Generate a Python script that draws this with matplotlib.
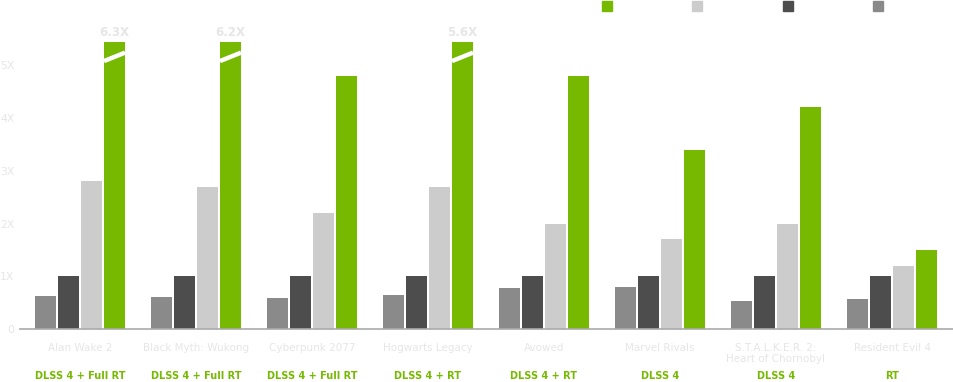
import matplotlib.pyplot as plt
import numpy as np
from matplotlib.patches import Rectangle

# datos
juegos = ["Alan Wake 2", "Black Myth: Wukong", "Cyberpunk 2077", "Hogwarts Legacy",
          "Avowed", "Marvel Rivals", "S.T.A.L.K.E.R. 2:\nHeart of Chornobyl", "Resident Evil 4"]
modos = ["DLSS 4 + Full RT", "DLSS 4 + Full RT", "DLSS 4 + Full RT", "DLSS 4 + RT",
         "DLSS 4 + RT", "DLSS 4", "DLSS 4", "RT"]
gris = [0.63, 0.60, 0.58, 0.65, 0.77, 0.80, 0.53, 0.57]
oscuro = [1.0, 1.0, 1.0, 1.0, 1.0, 1.0, 1.0, 1.0]
claro = [2.8, 2.7, 2.2, 2.7, 2.0, 1.7, 2.0, 1.2]
verde = [6.3, 6.2, 4.8, 5.6, 4.8, 3.4, 4.2, 1.5]
leyenda = ["RTX 5090", "RTX 4090", "RTX 3090 Ti", "RTX 2080 Ti"]

VERDE = "#76b900"
CLARO = "#cccccc"
OSCURO = "#4d4d4d"
GRIS = "#8a8a8a"
TEXTO = "#e6e6e6"
TOPE = 5.45  # altura maxima dibujada (barras cortadas)

fig = plt.figure(figsize=(9.54, 3.82), dpi=100)
ax = fig.add_axes([20 / 954, 53 / 382, 934 / 954, 327 / 382])

x = np.arange(len(juegos))
paso = 23 / 116
ancho = 21 / 116
series = [(gris, GRIS), (oscuro, OSCURO), (claro, CLARO), (verde, VERDE)]
for k, (vals, color) in enumerate(series):
    alturas = [min(v, TOPE) for v in vals]
    ax.bar(x + (k - 1.5) * paso, alturas, width=ancho, color=color, zorder=2)

# barras cortadas
xv = x + 1.5 * paso
for i, v in enumerate(verde):
    if v > TOPE:
        ax.plot([xv[i] - ancho / 2, xv[i] + ancho / 2], [5.08, 5.24],
                color="white", lw=3.2, solid_capstyle="butt", zorder=3)
        ax.text(xv[i], TOPE + 0.04, f"{v:.1f}X", ha="center", va="bottom",
                color=TEXTO, fontsize=8.5, fontweight="bold")

ax.set_xlim(-60 / 116, 874 / 116)
ax.set_ylim(0, 6.2)
ax.set_yticks([0, 1, 2, 3, 4, 5])
ax.set_yticklabels(["0", "1X", "2X", "3X", "4X", "5X"], color=TEXTO, fontsize=7.8)
ax.set_xticks(x)
ax.set_xticklabels(juegos, color=TEXTO, fontsize=7.5, va="top")
ax.tick_params(axis="both", length=0)
ax.tick_params(axis="x", pad=10)
ax.tick_params(axis="y", pad=4)
for s in ["top", "right", "left"]:
    ax.spines[s].set_visible(False)
ax.spines["bottom"].set_color("#aaaaaa")
ax.spines["bottom"].set_linewidth(1.2)

# etiquetas de modo
for i, m in enumerate(modos):
    ax.text(x[i], -0.9, m, ha="center", va="center", color=VERDE,
            fontsize=7, fontweight="bold", clip_on=False)

# leyenda manual
colores_ley = [VERDE, CLARO, OSCURO, GRIS]
for j, (etq, c) in enumerate(zip(leyenda, colores_ley)):
    x0 = (602 + 90.5 * j) / 954
    fig.add_artist(Rectangle((x0, 1 - 11 / 382), 10 / 954, 10 / 382,
                             transform=fig.transFigure, color=c))
    fig.text(x0 + 15 / 954, 1 - 6 / 382, etq, color="white", fontsize=7, va="center")

fig.savefig("out.png", dpi=100, facecolor="white")
